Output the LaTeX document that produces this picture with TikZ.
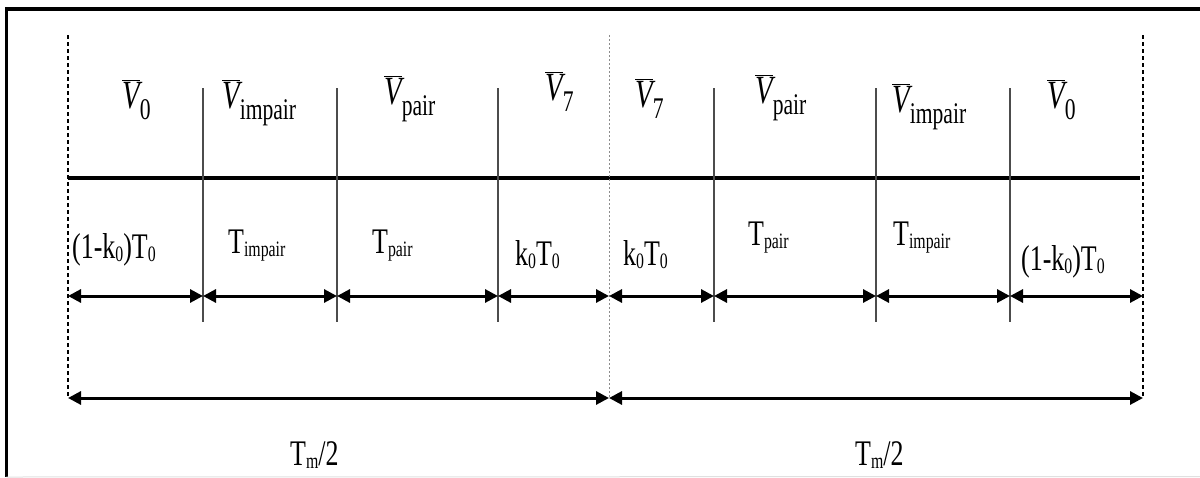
\documentclass[tikz,border=0pt]{standalone}
\usepackage{graphicx}
\usepackage{fontspec}
\setmainfont{Liberation Serif}
\usetikzlibrary{arrows.meta}

% 矢量符号 \bar V 带下标；时间标签的下标
\newcommand{\vbarsub}[1]{\scalebox{0.72}[1]{{\fontsize{40}{44}\selectfont$\overline{\mbox{\itshape V}}$}\raisebox{-11pt}{\fontsize{30}{32}\selectfont #1}}}
\newcommand{\tlow}[1]{\raisebox{-3pt}{\fontsize{22}{24}\selectfont #1}}
\newcommand{\tlabel}[1]{\scalebox{0.72}[1]{\fontsize{36}{40}\selectfont #1}}

\tikzset{
  frameline/.style={line width=3.2pt},
  axisline/.style={line width=4.5pt},
  tickline/.style={line width=1.5pt, draw=black!70},
  guideline/.style={line width=1.3pt, dash pattern=on 4pt off 3pt},
  midguide/.style={line width=1pt, draw=black!45, dash pattern=on 2pt off 2pt},
  span/.style={line width=3pt, {Triangle[length=13pt,width=13pt]}-{Triangle[length=13pt,width=13pt]}},
  lbl/.style={anchor=base west, inner sep=0pt}
}

\begin{document}
\begin{tikzpicture}[x=1pt, y=-1pt, line cap=butt]

  %% ════ 外框（只有上边和左边）════
  \coordinate (fTL) at (6.5,9);
  \coordinate (fTR) at (1200,9);
  \coordinate (fBL) at (6.5,477);
  \coordinate (fBR) at (1200,476.5);
  \draw[frameline] (fTR) -- (fTL) -- (fBL);
  \draw[line width=1pt, draw=black!12] (fBL) -- (fBR);

  %% ════ 分段位置 ════
  \foreach \i/\x in {0/68,1/203,2/337,3/498,4/609,5/714,6/876,7/1010,8/1143}{
    \coordinate (t\i) at (\x,296);
    \coordinate (u\i) at (\x,88);
    \coordinate (d\i) at (\x,322);
    \coordinate (g\i) at (\x,35);
    \coordinate (h\i) at (\x,398);
  }

  %% ════ 时间轴 ════
  \coordinate (axL) at (68,178);
  \coordinate (axR) at (1140,178);
  \draw[axisline] (axL) -- (axR);

  %% ════ 竖线 ════
  \foreach \i in {1,2,3,5,6,7} \draw[tickline] (u\i) -- (d\i);
  \draw[guideline] (g0) -- (h0);
  \draw[guideline] (g8) -- (h8);
  \draw[midguide] (g4) -- (h4);

  %% ════ 双箭头 ════
  \foreach \i in {0,...,7}{
    \pgfmathtruncatemacro\j{\i+1}
    \draw[span] (t\i) -- (t\j);
  }
  \draw[span] (h0) -- (h4);
  \draw[span] (h4) -- (h8);

  %% ════ 上排：电压矢量 ════
  \node[lbl] (v0L)   at (122,108)  {\vbarsub{0}};
  \node[lbl] (vimpL) at (222,108)  {\vbarsub{impair}};
  \node[lbl] (vprL)  at (384,104)  {\vbarsub{pair}};
  \node[lbl] (v7L)   at (545,100)  {\vbarsub{7}};
  \node[lbl] (v7R)   at (635,107)  {\vbarsub{7}};
  \node[lbl] (vprR)  at (755,103)  {\vbarsub{pair}};
  \node[lbl] (vimpR) at (892,112)  {\vbarsub{impair}};
  \node[lbl] (v0R)   at (1047,108) {\vbarsub{0}};

  %% ════ 下排：作用时间 ════
  \node[lbl] (dt0L)  at (72,258)   {\tlabel{(1-k\tlow{0})T\tlow{0}}};
  \node[lbl] (dtimL) at (228,253)  {\tlabel{T\tlow{impair}}};
  \node[lbl] (dtprL) at (372,253)  {\tlabel{T\tlow{pair}}};
  \node[lbl] (dt7L)  at (515,265)  {\tlabel{k\tlow{0}T\tlow{0}}};
  \node[lbl] (dt7R)  at (623,265)  {\tlabel{k\tlow{0}T\tlow{0}}};
  \node[lbl] (dtprR) at (748,245)  {\tlabel{T\tlow{pair}}};
  \node[lbl] (dtimR) at (893,245)  {\tlabel{T\tlow{impair}}};
  \node[lbl] (dt0R)  at (1021,270) {\tlabel{(1-k\tlow{0})T\tlow{0}}};

  %% ════ 半周期 ════
  \node[lbl] (hpL) at (290,465) {\tlabel{T\tlow{m}/2}};
  \node[lbl] (hpR) at (855,465) {\tlabel{T\tlow{m}/2}};

  % 固定画布尺寸
  \pgfresetboundingbox
  \path[use as bounding box] (0,0) rectangle (1200,477);
\end{tikzpicture}
\end{document}
